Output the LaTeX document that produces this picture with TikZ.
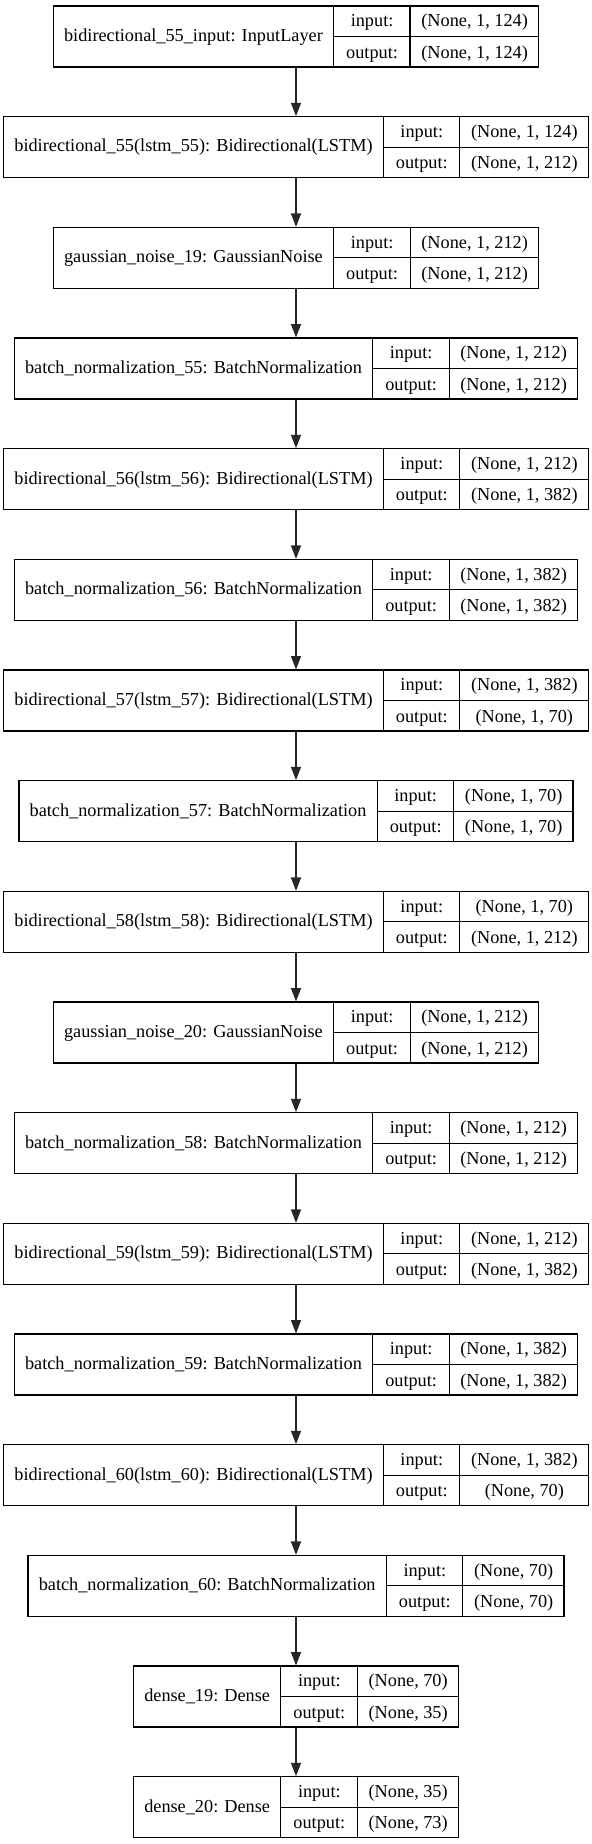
\documentclass[tikz,border=0pt]{standalone}
\usepackage{fontspec}
\setmainfont{Liberation Serif}
\usepackage{tikz}
\usetikzlibrary{arrows.meta}
\pgfdeclarelayer{nodelayer}
\pgfdeclarelayer{edgelayer}
\pgfsetlayers{nodelayer,edgelayer,main}
\newcommand\recfont{\fontsize{13.7}{16}\selectfont}
\setlength\arrayrulewidth{0.9pt}
\renewcommand\arraystretch{1.4}
\tikzset{
    rec/.style = {draw=black, line width=0.9pt, inner sep=0pt, font=\recfont},
    flow/.style = {draw=black!85, line width=0.9pt, -{Triangle[length=10pt,width=7.5pt]}}
}
\newcommand\layerrec[3]{%
  \begin{tabular}{@{\hspace{8pt}}c@{\hspace{8pt}}|@{}c@{}}
    #1 &
    \begin{tabular}{@{\hspace{8pt}}c@{\hspace{8pt}}|@{\hspace{8pt}}c@{\hspace{8pt}}}
      \makebox[41pt]{input:} & #2 \\ \hline
      \makebox[41pt]{output:} & #3
    \end{tabular}
  \end{tabular}}

\begin{document}
\begin{tikzpicture}
  \useasboundingbox (-222pt, -1383pt) rectangle (222pt, 0pt);
  \begin{pgfonlayer}{nodelayer}
    \node [rec] (0) at (0pt, -27.4pt) {\layerrec{bidirectional\_55\_input: InputLayer}{(None, 1, 124)}{(None, 1, 124)}};
    \node [rec] (1) at (0pt, -110.4pt) {\layerrec{bidirectional\_55(lstm\_55): Bidirectional(LSTM)}{(None, 1, 124)}{(None, 1, 212)}};
    \node [rec] (2) at (0pt, -193.4pt) {\layerrec{gaussian\_noise\_19: GaussianNoise}{(None, 1, 212)}{(None, 1, 212)}};
    \node [rec] (3) at (0pt, -276.4pt) {\layerrec{batch\_normalization\_55: BatchNormalization}{(None, 1, 212)}{(None, 1, 212)}};
    \node [rec] (4) at (0pt, -359.4pt) {\layerrec{bidirectional\_56(lstm\_56): Bidirectional(LSTM)}{(None, 1, 212)}{(None, 1, 382)}};
    \node [rec] (5) at (0pt, -442.4pt) {\layerrec{batch\_normalization\_56: BatchNormalization}{(None, 1, 382)}{(None, 1, 382)}};
    \node [rec] (6) at (0pt, -525.4pt) {\layerrec{bidirectional\_57(lstm\_57): Bidirectional(LSTM)}{(None, 1, 382)}{(None, 1, 70)}};
    \node [rec] (7) at (0pt, -608.4pt) {\layerrec{batch\_normalization\_57: BatchNormalization}{(None, 1, 70)}{(None, 1, 70)}};
    \node [rec] (8) at (0pt, -691.4pt) {\layerrec{bidirectional\_58(lstm\_58): Bidirectional(LSTM)}{(None, 1, 70)}{(None, 1, 212)}};
    \node [rec] (9) at (0pt, -774.4pt) {\layerrec{gaussian\_noise\_20: GaussianNoise}{(None, 1, 212)}{(None, 1, 212)}};
    \node [rec] (10) at (0pt, -857.4pt) {\layerrec{batch\_normalization\_58: BatchNormalization}{(None, 1, 212)}{(None, 1, 212)}};
    \node [rec] (11) at (0pt, -940.4pt) {\layerrec{bidirectional\_59(lstm\_59): Bidirectional(LSTM)}{(None, 1, 212)}{(None, 1, 382)}};
    \node [rec] (12) at (0pt, -1023.4pt) {\layerrec{batch\_normalization\_59: BatchNormalization}{(None, 1, 382)}{(None, 1, 382)}};
    \node [rec] (13) at (0pt, -1106.4pt) {\layerrec{bidirectional\_60(lstm\_60): Bidirectional(LSTM)}{(None, 1, 382)}{(None, 70)}};
    \node [rec] (14) at (0pt, -1189.4pt) {\layerrec{batch\_normalization\_60: BatchNormalization}{(None, 70)}{(None, 70)}};
    \node [rec] (15) at (0pt, -1272.4pt) {\layerrec{dense\_19: Dense}{(None, 70)}{(None, 35)}};
    \node [rec] (16) at (0pt, -1355.4pt) {\layerrec{dense\_20: Dense}{(None, 35)}{(None, 73)}};
  \end{pgfonlayer}
  \begin{pgfonlayer}{edgelayer}
    \foreach \i [count=\j from 1] in {0,...,15}
      \draw [flow] (\i) to (\j);
  \end{pgfonlayer}
\end{tikzpicture}
\end{document}
